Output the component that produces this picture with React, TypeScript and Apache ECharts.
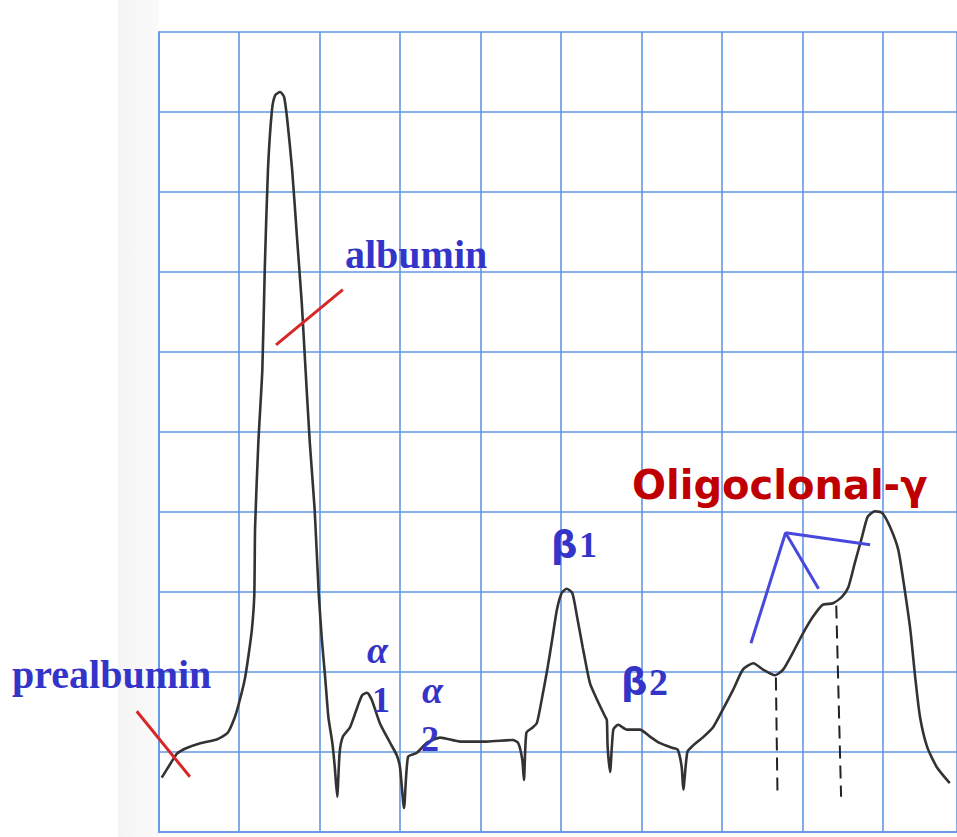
import React, { useEffect, useRef } from "react";
import * as echarts from "echarts";

// Densitometric trace (x, y in grid divisions)
const curveX = [
  0.04, 0.14, 0.23, 0.35, 0.52, 0.73, 0.86, 0.95, 1.01, 1.07, 1.11, 1.16, 1.19, 1.2, 1.24, 1.29,
  1.32, 1.36, 1.41, 1.45, 1.51, 1.56, 1.6, 1.66, 1.72, 1.78, 1.82, 1.88, 1.94, 1.99, 2.03, 2.07,
  2.11, 2.16, 2.19, 2.22, 2.25, 2.29, 2.38, 2.47, 2.53, 2.59, 2.65, 2.75, 2.88, 2.96, 3.0, 3.05,
  3.1, 3.21, 3.34, 3.5, 3.75, 4.08, 4.4, 4.47, 4.52, 4.54, 4.57, 4.64, 4.7, 4.76, 4.83, 4.89,
  4.95, 5.01, 5.07, 5.14, 5.2, 5.27, 5.36, 5.45, 5.55, 5.57, 5.58, 5.61, 5.65, 5.71, 5.82, 5.98,
  6.11, 6.23, 6.39, 6.45, 6.5, 6.52, 6.57, 6.64, 6.76, 6.89, 7.01, 7.14, 7.26, 7.39, 7.51, 7.66,
  7.76, 7.88, 8.01, 8.13, 8.25, 8.38, 8.49, 8.57, 8.65, 8.74, 8.81, 8.9, 8.99, 9.09, 9.19, 9.27,
  9.34, 9.4, 9.46, 9.55, 9.67, 9.83,
];
const curveY = [
  0.68, 0.84, 0.98, 1.05, 1.11, 1.16, 1.24, 1.44, 1.65, 1.9, 2.15, 2.53, 2.96, 3.81, 4.86, 5.78,
  7.03, 8.28, 9.03, 9.21, 9.25, 9.19, 8.9, 8.28, 7.44, 6.61, 5.9, 4.86, 4.03, 2.99, 2.4, 1.94,
  1.44, 1.11, 0.81, 0.44, 0.99, 1.19, 1.31, 1.56, 1.71, 1.74, 1.65, 1.36, 1.11, 0.96, 0.81, 0.3,
  0.94, 0.99, 1.12, 1.18, 1.13, 1.13, 1.15, 1.11, 0.9, 0.65, 1.24, 1.3, 1.36, 1.65, 2.03, 2.4,
  2.78, 2.99, 3.04, 2.99, 2.69, 2.31, 1.86, 1.65, 1.44, 1.4, 1.06, 0.75, 1.28, 1.34, 1.28, 1.28,
  1.19, 1.11, 1.05, 1.03, 0.81, 0.53, 1.0, 1.08, 1.18, 1.31, 1.53, 1.78, 2.03, 2.11, 2.03, 1.96,
  2.03, 2.24, 2.49, 2.69, 2.84, 2.86, 2.94, 3.06, 3.36, 3.69, 3.94, 4.01, 3.99, 3.81, 3.53, 3.03,
  2.53, 1.94, 1.44, 1.06, 0.81, 0.61,
];

// Dashed drop lines under the oligoclonal shoulders
const dropLine1 = [[7.67, 1.93], [7.69, 0.46]];
const dropLine2 = [[8.42, 2.83], [8.48, 0.44]];

// Blue pointer lines for the oligoclonal bands
const pointerA = [[7.36, 2.36], [7.79, 3.74], [8.2, 3.04]];
const pointerB = [[7.79, 3.74], [8.84, 3.59]];

// Red pointer lines
const albuminPointer = [[1.46, 6.09], [2.29, 6.78]];
const prealbuminPointer = [[-0.27, 1.51], [0.39, 0.69]];

// Axis ranges: [min, max, interval] in grid divisions
const xTicks = [0, 9.92, 1];
const yTicks = [0, 10, 1];

const BLUE = "#3434c8";
const RED_TEXT = "#c00000";
const RED_LINE = "#d62828";
const GRID = "#6396e4";

export default function App() {
  const ref = useRef<HTMLDivElement>(null);

  useEffect(() => {
    if (!ref.current) return;
    const chart = echarts.init(ref.current, null, { renderer: "svg" });

    const lineStyleGrid = { color: GRID, width: 1.6 };
    const serif = '"Liberation Serif", "Times New Roman", serif';
    const sans = '"DejaVu Sans", Verdana, sans-serif';

    const txt = (
      text: string,
      x: number,
      y: number,
      font: string,
      fill: string
    ) => ({
      type: "text",
      x,
      y,
      z: 10,
      style: { text, font, fill, align: "left", verticalAlign: "middle" },
    });

    const graphics: any[] = [
      {
        type: "rect",
        z: -10,
        shape: { x: 118, y: 0, width: 41, height: 837 },
        style: {
          fill: new echarts.graphic.LinearGradient(0, 0, 1, 0, [
            { offset: 0, color: "#f4f4f4" },
            { offset: 1, color: "#fafafa" },
          ]),
        },
      },
      txt("albumin", 345, 254.5, `bold 40px ${serif}`, BLUE),
      txt("prealbumin", 12, 674.5, `bold 40px ${serif}`, BLUE),
      txt("α", 367, 650, `italic bold 38px ${serif}`, BLUE),
      txt("1", 372, 700, `bold 36px ${serif}`, BLUE),
      txt("α", 422, 690, `italic bold 38px ${serif}`, BLUE),
      txt("2", 421, 739, `bold 36px ${serif}`, BLUE),
      txt("β", 551, 544, `bold 37px ${sans}`, BLUE),
      txt("1", 579, 545, `bold 36px ${serif}`, BLUE),
      txt("β", 621, 681, `bold 37px ${sans}`, BLUE),
      txt("2", 649, 682, `bold 38px ${serif}`, BLUE),
      txt("Oligoclonal-γ", 632, 485, `bold 40px ${sans}`, RED_TEXT),
    ];

    const option: any = {
      animation: false,
      backgroundColor: "#ffffff",
      grid: { left: 158.5, top: 32, right: 0, bottom: 5, containLabel: false },
      xAxis: {
        type: "value",
        min: xTicks[0],
        max: xTicks[1],
        interval: xTicks[2],
        axisLabel: { show: false },
        axisTick: { show: false },
        axisLine: { show: true, lineStyle: lineStyleGrid },
        splitLine: { show: true, lineStyle: lineStyleGrid },
      },
      yAxis: {
        type: "value",
        min: yTicks[0],
        max: yTicks[1],
        interval: yTicks[2],
        axisLabel: { show: false },
        axisTick: { show: false },
        axisLine: { show: true, lineStyle: lineStyleGrid },
        splitLine: { show: true, lineStyle: lineStyleGrid },
      },
      graphic: graphics,
      series: [
        {
          type: "line",
          data: curveX.map((x, i) => [x, curveY[i]]),
          symbol: "none",
          smooth: 0.2,
          lineStyle: { color: "#333333", width: 2.6 },
          z: 5,
        },
        ...[dropLine1, dropLine2].map((d) => ({
          type: "line",
          data: d,
          symbol: "none",
          lineStyle: { color: "#222222", width: 2, type: [13, 7] },
          z: 4,
        })),
        ...[pointerA, pointerB].map((d) => ({
          type: "line",
          data: d,
          symbol: "none",
          lineStyle: { color: "#4848dc", width: 3 },
          z: 6,
        })),
        {
          type: "line",
          data: albuminPointer,
          symbol: "none",
          lineStyle: { color: RED_LINE, width: 3 },
          z: 6,
        },
      ],
    };

    chart.setOption(option);

    // The prealbumin pointer reaches left of the plotting area; place it
    // through the axes' own scale so it is not clipped.
    const p0 = chart.convertToPixel({ gridIndex: 0 }, prealbuminPointer[0]) as number[];
    const p1 = chart.convertToPixel({ gridIndex: 0 }, prealbuminPointer[1]) as number[];
    if (p0 && p1) {
      chart.setOption({
        graphic: [
          ...graphics,
          {
            type: "line",
            z: 8,
            shape: { x1: p0[0], y1: p0[1], x2: p1[0], y2: p1[1] },
            style: { stroke: RED_LINE, lineWidth: 3 },
          },
        ],
      });
    }

    return () => chart.dispose();
  }, []);

  return (
    <div
      ref={ref}
      style={{ position: "fixed", left: 0, top: 0, width: 957, height: 837 }}
    />
  );
}
